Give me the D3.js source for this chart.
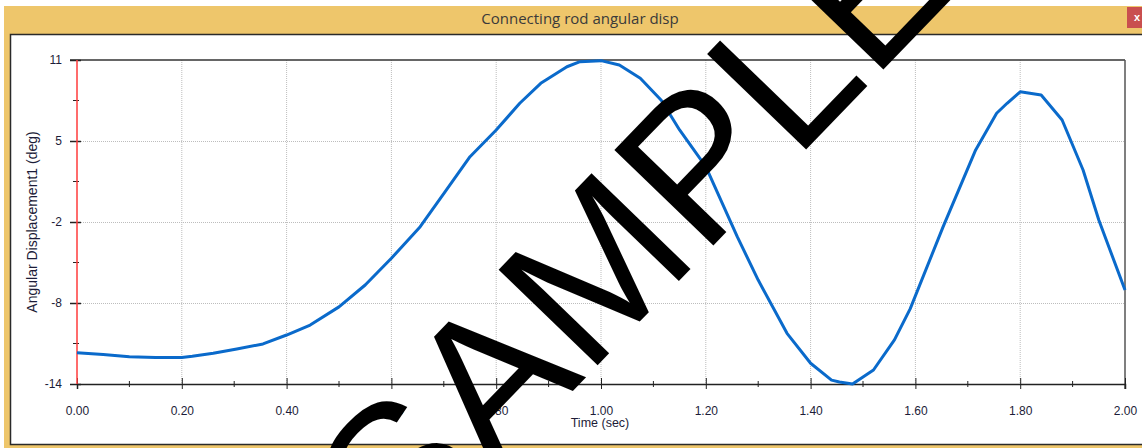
<!DOCTYPE html>
<html lang="en">
<head>
    <meta charset="UTF-8">
    <title>Connecting rod angular disp</title>
    <script src="https://d3js.org/d3.v7.min.js"></script>
    <style>
        body { margin: 0; background: #fff; }
        svg { display: block; }
        .tick text { font-family: "Liberation Sans", Arial, sans-serif; font-size: 12px; fill: #1c1c38; }
        .axis-label { font-family: "Liberation Sans", Arial, sans-serif; font-size: 12.5px; fill: #1c1c38; }
        .title { font-family: "Open Sans", "Noto Sans", sans-serif; font-size: 15px; fill: #3a3a3a; }
    </style>
</head>
<body>
    <div id="chart"></div>
    <script>
        // values
        const timeSec = [0, 0.05, 0.10, 0.15, 0.20, 0.22, 0.26, 0.305, 0.355, 0.40, 0.445, 0.50, 0.55, 0.60,
            0.655, 0.705, 0.75, 0.80, 0.845, 0.885, 0.935, 0.96, 1.00, 1.035, 1.075, 1.115, 1.15, 1.20,
            1.26, 1.30, 1.355, 1.40, 1.44, 1.455, 1.48, 1.52, 1.56, 1.59, 1.653, 1.715, 1.755, 1.775, 1.80,
            1.84, 1.88, 1.92, 1.95, 2.00];
        const angleDeg = [-11.58, -11.73, -11.9, -11.95, -11.95, -11.86, -11.63, -11.3, -10.91, -10.22, -9.45, -8.05, -6.36, -4.3,
            -1.86, 0.97, 3.54, 5.6, 7.66, 9.2, 10.48, 10.87, 10.95, 10.61, 9.59, 7.9, 5.6, 2.77,
            -2.63, -5.98, -10.09, -12.4, -13.7, -13.85, -14.0, -12.92, -10.6, -8.2, -1.86, 4.06, 6.89, 7.66, 8.55,
            8.3, 6.37, 2.51, -1.35, -6.75];

        const xTicks = [0, 0.2, 0.4, 0.6, 0.8, 1.0, 1.2, 1.4, 1.6, 1.8, 2.0];
        const xMinorTicks = [0.1, 0.3, 0.5, 0.7, 0.9, 1.1, 1.3, 1.5, 1.7, 1.9];
        const yTicks = [11, 4.75, -1.5, -7.75, -14];
        const yTickLabels = ["11", "5", "-2", "-8", "-14"];
        const yMinorTicks = [7.875, 1.625, -4.625, -10.875];

        const width = 1142;
        const height = 448;
        const plot = {left: 77, right: 1125, top: 60, bottom: 384};

        const svg = d3.select("#chart").append("svg")
            .attr("width", width)
            .attr("height", height);

        // window frame
        svg.append("rect").attr("x", 4).attr("y", 6).attr("width", width - 4).attr("height", height - 6)
            .attr("fill", "#eec66b");
        svg.append("rect").attr("x", 10.5).attr("y", 34.5).attr("width", width + 10).attr("height", 410)
            .attr("fill", "#fff").attr("stroke", "#2a2a2a").attr("stroke-width", 1.5);
        svg.append("text").attr("class", "title")
            .attr("x", 580).attr("y", 24).attr("text-anchor", "middle")
            .text("Connecting rod angular disp");
        svg.append("rect").attr("x", 1127).attr("y", 7).attr("width", 15).attr("height", 21).attr("fill", "#c94f4f");
        svg.append("text").attr("x", 1137).attr("y", 21).attr("text-anchor", "middle")
            .attr("fill", "#fff").style("font", "bold 11px 'Liberation Sans', Arial, sans-serif").text("x");

        const x = d3.scaleLinear().domain([0, 2]).range([plot.left, plot.right]);
        const y = d3.scaleLinear().domain([-14, 11]).range([plot.bottom, plot.top]);

        // grid
        svg.append("g").selectAll("line").data(xTicks.slice(1, -1)).join("line")
            .attr("x1", d => x(d)).attr("x2", d => x(d))
            .attr("y1", plot.top).attr("y2", plot.bottom)
            .attr("stroke", "#bdbdbd").attr("stroke-dasharray", "1,1");
        svg.append("g").selectAll("line").data(yTicks.slice(1, -1)).join("line")
            .attr("x1", plot.left).attr("x2", plot.right)
            .attr("y1", d => y(d) + 0.5).attr("y2", d => y(d) + 0.5)
            .attr("stroke", "#bdbdbd").attr("stroke-dasharray", "1,1");

        // frame lines
        svg.append("line").attr("x1", 70).attr("x2", plot.right).attr("y1", plot.top).attr("y2", plot.top)
            .attr("stroke", "#333").attr("stroke-width", 1.5);
        svg.append("line").attr("x1", plot.right).attr("x2", plot.right).attr("y1", plot.top).attr("y2", plot.bottom + 5)
            .attr("stroke", "#555").attr("stroke-width", 1.5);

        // x axis
        const xAxis = svg.append("g")
            .attr("transform", `translate(0,${plot.bottom})`)
            .call(d3.axisBottom(x).tickValues(xTicks).tickFormat(d3.format(".2f")).tickSize(5).tickPadding(17));
        xAxis.select(".domain").attr("stroke", "#222").attr("stroke-width", 1.5);
        xAxis.selectAll(".tick line").attr("y1", -6).attr("stroke", "#222");
        svg.append("g").selectAll("line").data(xMinorTicks).join("line")
            .attr("x1", d => x(d)).attr("x2", d => x(d))
            .attr("y1", plot.bottom - 3).attr("y2", plot.bottom + 3)
            .attr("stroke", "#222");

        // y axis
        const yAxis = svg.append("g")
            .attr("transform", `translate(${plot.left},0)`)
            .call(d3.axisLeft(y).tickValues(yTicks).tickFormat((d, i) => yTickLabels[i]).tickSize(7).tickPadding(8));
        yAxis.selectAll(".tick line").attr("x1", 4).attr("stroke", "#222").attr("stroke-width", 1.5);
        yAxis.select(".domain").remove();
        svg.append("g").selectAll("line").data(yMinorTicks).join("line")
            .attr("x1", plot.left - 4).attr("x2", plot.left + 2)
            .attr("y1", d => y(d)).attr("y2", d => y(d))
            .attr("stroke", "#222");
        svg.append("line").attr("x1", plot.left).attr("x2", plot.left)
            .attr("y1", plot.top).attr("y2", plot.bottom)
            .attr("stroke", "#ff3b3b").attr("stroke-width", 1.5);

        // axis labels
        svg.append("text").attr("class", "axis-label")
            .attr("x", 600).attr("y", 427).attr("text-anchor", "middle")
            .text("Time (sec)");
        svg.append("text").attr("class", "axis-label")
            .style("font-size", "14px")
            .attr("transform", "translate(37,222) rotate(-90)").attr("text-anchor", "middle")
            .text("Angular Displacement1 (deg)");

        // curve
        const line = d3.line().x(d => x(d[0])).y(d => y(d[1]));
        svg.append("path")
            .datum(d3.zip(timeSec, angleDeg))
            .attr("fill", "none")
            .attr("stroke", "#0a6acb")
            .attr("stroke-width", 3)
            .attr("stroke-linejoin", "round")
            .attr("d", line);

        // watermark overlay
        svg.append("text")
            .attr("transform", "translate(401,569) rotate(-46)")
            .attr("fill", "#000")
            .style("font", "200px 'Liberation Sans', Arial, sans-serif")
            .text("SAMPLE");
    </script>
</body>
</html>
